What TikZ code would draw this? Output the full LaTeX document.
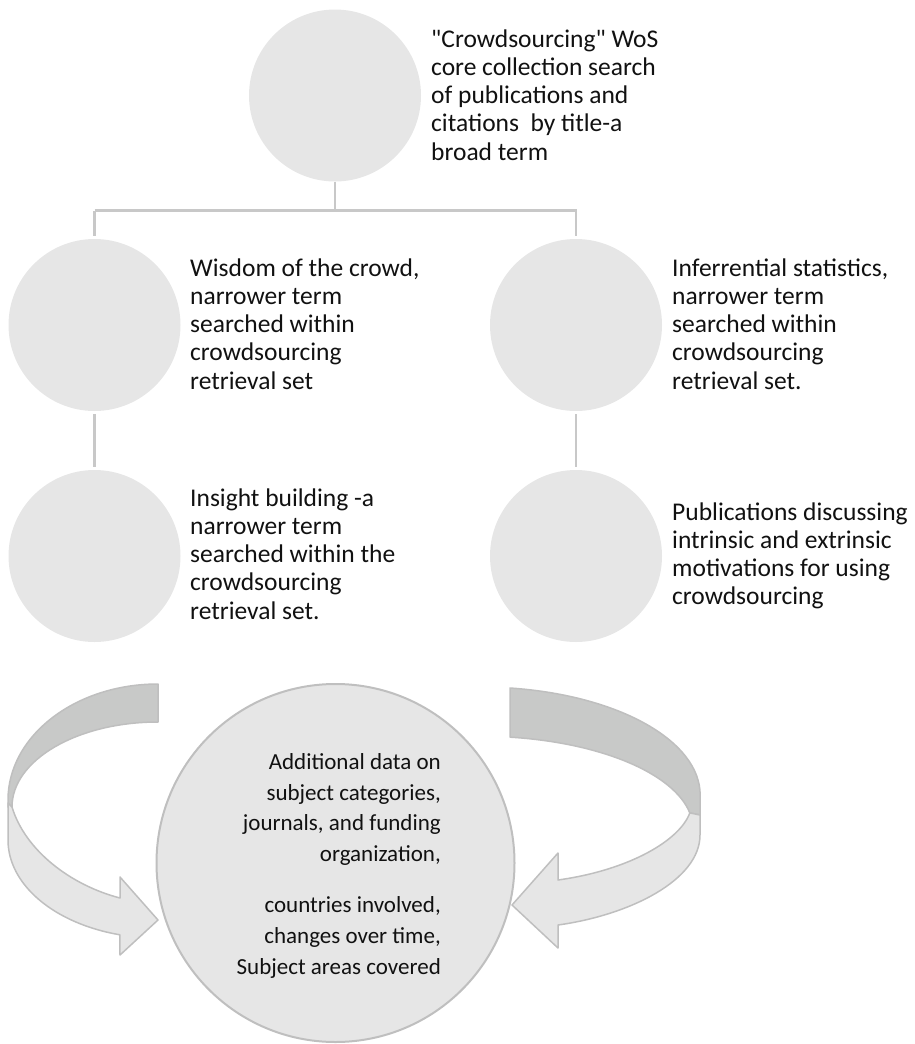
\documentclass[tikz,border=0pt]{standalone}
\usepackage{fontspec}
\setmainfont{Carlito}[Ligatures=TeXOff]
\definecolor{circfill}{HTML}{E6E6E6}
\definecolor{edgegray}{HTML}{BFBFBF}
\definecolor{conngray}{HTML}{C8C8C8}
\definecolor{backgray}{HTML}{C8C9C8}
\definecolor{textcol}{HTML}{111111}
\begin{document}
\begin{tikzpicture}[x=1pt,y=-1pt,
  bubble/.style={circle, fill=circfill, draw=none, minimum size=172pt, inner sep=0pt},
  conn/.style={draw=conngray, line width=2.5pt},
  label/.style={anchor=base west, align=left, inner sep=0pt, text=textcol,
                font=\fontsize{25.5}{28.3}\selectfont},
  backband/.style={fill=backgray, draw=edgegray, line width=1.5pt, line join=round},
  frontband/.style={fill=circfill, draw=edgegray, line width=1.5pt, line join=round}]
\useasboundingbox (0,0) rectangle (915,1044);

% circles
\node[bubble] (c1) at (335,95.5) {};
\node[bubble] (c2) at (94.5,325) {};
\node[bubble] (c3) at (576,325) {};
\node[bubble] (c4) at (94.5,556) {};
\node[bubble] (c5) at (576,556) {};

% connectors
\coordinate (hy) at (0,210.5);
\draw[conn] (c1.south) -- (c1.south |- hy);
\draw[conn, shorten >=3pt] (c2.north |- hy) -- (c3.north |- hy) -- (c3.north);
\draw[conn, shorten >=3pt] (c2.north |- hy) -- (c2.north);
\draw[conn, shorten <=3pt, shorten >=3pt] (c2.south) -- (c4.north);
\draw[conn, shorten <=3pt, shorten >=3pt] (c3.south) -- (c5.north);

% texts (anchor = baseline of last line)
\node[label] (t1) at (431,160.2) {"Crowdsourcing" WoS\\core collection search\\of publications and\\citations\ \ by title-a\\broad term};
\node[label] (t2) at (190,389.2) {Wisdom of the crowd,\\narrower term\\searched within\\crowdsourcing\\retrieval set};
\node[label] (t3) at (672,389.2) {Inferrential statistics,\\narrower term\\searched within\\crowdsourcing\\retrieval set.};
\node[label] (t4) at (190,619.2) {Insight building -a\\narrower term\\searched within the\\crowdsourcing\\retrieval set.};
\node[label] (t5) at (672,604.9) {Publications discussing\\intrinsic and extrinsic\\motivations for using\\crowdsourcing};

% left circular arrow
\path[backband] (158,684) arc[start angle=270,end angle=180,x radius=150,y radius=116]
  -- (8,807) -- (12,807) arc[start angle=180,end angle=270,x radius=146,y radius=85] -- cycle;
\path[frontband] (12,807) -- (8,803) -- (8,840)
  arc[start angle=180,end angle=104.7,x radius=150,y radius=98]
  -- (120,955) -- (158,920) -- (120,877) -- (120,898)
  .. controls (70,885) and (25,850) .. (12,807) -- cycle;

% right circular arrow
\path[backband] (510,688) arc[start angle=277.8,end angle=360,x radius=220,y radius=108]
  -- (700,815) -- (689.8,812.9)
  arc[start angle=350,end angle=278.1,x radius=213,y radius=92.8] -- cycle;
\path[frontband] (689.8,812.9) -- (700,815) -- (700,835)
  .. controls (700,880) and (630,915) .. (558,925)
  -- (558,948) -- (512,905) -- (558,853) -- (558,880)
  .. controls (630,870) and (680,840) .. (689.8,812.9) -- cycle;

% bottom circle
\node[circle, fill=circfill, draw=edgegray, line width=2pt, minimum size=358pt, inner sep=0pt] (c6) at (335.5,863) {};
\node[anchor=base east, align=right, inner sep=0pt, text=textcol,
      font=\fontsize{23}{30.7}\selectfont] (t6) at (441,974)
  {Additional data on\\subject categories,\\journals, and funding\\organization,\\[20.3pt]countries involved,\\changes over time,\\Subject areas covered};
\end{tikzpicture}
\end{document}
